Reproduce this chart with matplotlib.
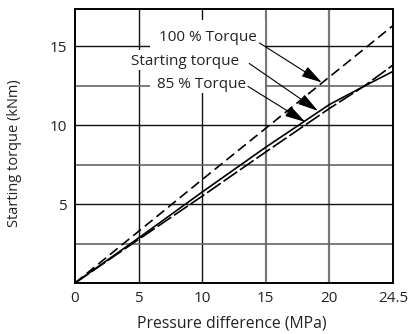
import matplotlib.pyplot as plt
from matplotlib.patches import FancyArrowPatch, Rectangle

plt.rcParams['font.family'] = ['Open Sans', 'DejaVu Sans']

# pressure difference (MPa), last point is the 24.5 end of the axis
pressure = [0, 5, 10, 15, 20, 22.7, 25]
torque_100 = [0, 3.27, 6.55, 9.8, 13.05, 14.8, 16.3]
torque_start = [0, 2.85, 5.76, 8.6, 11.3, 12.45, 13.4]
torque_85 = [0, 2.76, 5.5, 8.3, 11.05, 12.45, 13.8]

x_ticks = [0, 5, 10, 15, 20, 25]
x_ticklabels = ['0', '5', '10', '15', '20', '24.5']
y_ticks = [5, 10, 15]
y_minor = [2.5, 7.5, 12.5]

fig = plt.figure(figsize=(4.11, 3.34), dpi=100)
ax = fig.add_axes([75 / 411, 51 / 334, 318 / 411, 274 / 334])

ax.set_xlim(0, 25)
ax.set_ylim(0, 17.35)
ax.set_xticks(x_ticks)
ax.set_xticklabels(x_ticklabels)
ax.set_yticks(y_ticks)
ax.set_yticks(y_minor, minor=True)
ax.tick_params(which='both', length=0, labelsize=11, colors='#222222', pad=6)

# grid
for x in [5, 10]:
    ax.axvline(x, color='#111111', lw=1.0, zorder=1)
for x in [15, 20]:
    ax.axvline(x, color='#777777', lw=1.6, zorder=1)
for y in y_ticks:
    ax.axhline(y, color='#111111', lw=1.0, zorder=1)
for y in y_minor:
    ax.axhline(y, color='#666666', lw=1.2, zorder=1)

# white area behind the labels
ax.add_patch(Rectangle((5.9, 12.0), 9.0, 4.65, facecolor='white', edgecolor='none', zorder=2))
ax.add_patch(Rectangle((4.3, 13.48), 10.6, 1.27, facecolor='white', edgecolor='none', zorder=2))

ax.plot(pressure, torque_100, color='black', lw=1.2, dashes=(6, 3), zorder=3)
ax.plot(pressure, torque_start, color='black', lw=1.2, zorder=3)
ax.plot(pressure, torque_85, color='black', lw=1.2, dashes=(10, 2), zorder=3)

for s in ax.spines.values():
    s.set_linewidth(1.4)
    s.set_color('black')

ax.text(10.42, 15.32, '100 % Torque', ha='center', va='baseline', fontsize=11,
        color='#222222', zorder=4)
ax.text(8.69, 13.8, 'Starting torque', ha='center', va='baseline', fontsize=11,
        color='#222222', zorder=4)
ax.text(9.96, 12.32, '85 % Torque', ha='center', va='baseline', fontsize=11,
        color='#222222', zorder=4)

arrows = [((14.5, 15.2), (19.4, 12.7)),
          ((13.7, 13.9), (19.1, 10.9)),
          ((13.6, 12.45), (18.1, 10.2))]
for start, end in arrows:
    ax.add_patch(FancyArrowPatch(start, end, arrowstyle='-|>,head_length=0.9,head_width=0.25',
                                 mutation_scale=14, color='black', lw=0.8,
                                 shrinkA=0, shrinkB=0, zorder=5))

fig.text(231.5 / 411, 1 - 323 / 334, 'Pressure difference (MPa)', ha='center', va='center',
         fontsize=11.3, color='#222222')
fig.text(15 / 411, 1 - 153.5 / 334, 'Starting torque (kNm)', ha='center', va='center',
         rotation=90, fontsize=10.5, color='#222222')

fig.savefig('out.png', dpi=100)
